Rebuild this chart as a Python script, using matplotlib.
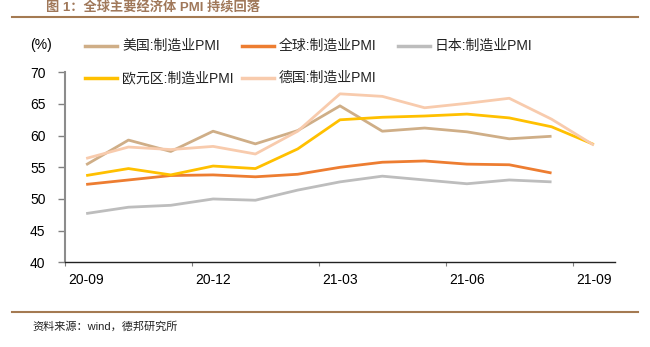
import matplotlib
matplotlib.use("Agg")
import matplotlib.pyplot as plt
from matplotlib.lines import Line2D

plt.rcParams['font.family'] = ['Liberation Sans', 'Noto Sans CJK SC', 'DejaVu Sans']

# monthly manufacturing PMI, 2020-09 .. 2021-09
months = ["20-09", "20-10", "20-11", "20-12", "21-01", "21-02", "21-03",
          "21-04", "21-05", "21-06", "21-07", "21-08", "21-09"]
tick_months = ["20-09", "20-12", "21-03", "21-06", "21-09"]

us_pmi = [55.4, 59.3, 57.5, 60.7, 58.7, 60.8, 64.7, 60.7, 61.2, 60.6, 59.5, 59.9]
global_pmi = [52.3, 53.0, 53.7, 53.8, 53.5, 53.9, 55.0, 55.8, 56.0, 55.5, 55.4, 54.1]
japan_pmi = [47.7, 48.7, 49.0, 50.0, 49.8, 51.4, 52.7, 53.6, 53.0, 52.4, 53.0, 52.7]
euro_pmi = [53.7, 54.8, 53.8, 55.2, 54.8, 57.9, 62.5, 62.9, 63.1, 63.4, 62.8, 61.4, 58.6]
germany_pmi = [56.4, 58.2, 57.8, 58.3, 57.1, 60.7, 66.6, 66.2, 64.4, 65.1, 65.9, 62.6, 58.5]

series = [
    ("美国:制造业PMI", us_pmi, "#CFAE87"),
    ("全球:制造业PMI", global_pmi, "#ED7D31"),
    ("日本:制造业PMI", japan_pmi, "#BDBDBD"),
    ("欧元区:制造业PMI", euro_pmi, "#FFC000"),
    ("德国:制造业PMI", germany_pmi, "#F8CBAD"),
]

W, H = 650, 347
fig = plt.figure(figsize=(W / 100, H / 100), dpi=100)
ax = fig.add_axes([65 / W, 1 - 262.3 / H, 550 / W, 190 / H])

for name, vals, col in series:
    ax.plot(range(len(vals)), vals, color=col, lw=2, solid_capstyle="butt")

ax.set_xlim(-0.5, len(months) - 0.5)
ax.set_ylim(40, 70)
ax.set_yticks(range(40, 71, 5))
ax.tick_params(axis="y", direction="out", length=5, width=1, color="#808080",
               labelsize=10, pad=9)

# tick marks between categories, labels on the category itself
ax.set_xticks([-0.5, 2.5, 5.5, 8.5, 11.5])
ax.set_xticklabels([])
ax.tick_params(axis="x", which="major", direction="out", length=3, color="#808080")
ax.set_xticks([months.index(m) for m in tick_months], minor=True)
ax.set_xticklabels(tick_months, minor=True)
ax.tick_params(axis="x", which="minor", length=0, labelsize=10, pad=8)

for s in ["top", "right"]:
    ax.spines[s].set_visible(False)
ax.spines["left"].set_color("#8C8C8C")
ax.spines["left"].set_linewidth(1.5)
ax.spines["bottom"].set_color("#222222")
ax.spines["bottom"].set_linewidth(1)

# legend laid out by hand in two rows
legend_pos = [(85, 45.5), (242, 45.5), (398, 45.5), (85, 78), (242, 78)]
for (name, vals, col), (lx, ly) in zip(series, legend_pos):
    fig.add_artist(Line2D([lx / W, (lx + 32) / W], [1 - ly / H, 1 - ly / H],
                          color=col, lw=2.5))
    fig.text((lx + 37) / W, 1 - ly / H, name, fontsize=10, va="center",
             ha="left", color="#222222")

fig.text(30 / W, 1 - 45 / H, "(%)", fontsize=10, va="center", ha="left")

# header and footer
fig.text(46 / W, 1 - 1 / H, "图 1：全球主要经济体 PMI 持续回落", fontsize=9.5,
         fontweight="bold", color="#A0785A", va="top", ha="left")
fig.add_artist(Line2D([12 / W, 638 / W], [1 - 17 / H, 1 - 17 / H],
                      color="#A47A52", lw=1.5))
fig.add_artist(Line2D([12 / W, 638 / W], [1 - 312 / H, 1 - 312 / H],
                      color="#A47A52", lw=1.5))
fig.text(32 / W, 1 - 326 / H, "资料来源：wind，德邦研究所", fontsize=8,
         color="#222222", va="center", ha="left")

fig.savefig("out.png", dpi=100)
